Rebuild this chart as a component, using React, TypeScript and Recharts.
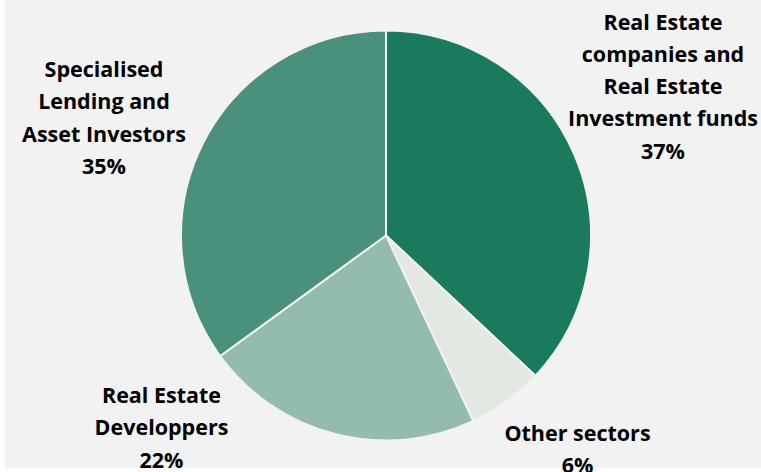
import React from "react";
import { PieChart, Pie, Cell } from "recharts";

const categories = [
  "Real Estate companies and Real Estate Investment funds",
  "Other sectors",
  "Real Estate Developpers",
  "Specialised Lending and Asset Investors",
];
const shares = [37, 6, 22, 35];
const labelLines = [
  ["Real Estate", "companies and", "Real Estate", "Investment funds"],
  ["Other sectors"],
  ["Real Estate", "Developpers"],
  ["Specialised", "Lending and", "Asset Investors"],
];
const colors = ["#1a7a5e", "#e3e8e2", "#93bbb0", "#4a917d"];

// label anchor offsets relative to pie center (top line center)
const labelLayout = [
  { dx: 277, top: 20.5 - 235.5 },
  { dx: 191.5, top: 432 - 235.5 },
  { dx: -224.5, top: 394 - 235.5 },
  { dx: -282, top: 68 - 235.5 },
];

const data = categories.map((name, i) => ({ name, value: shares[i] }));

const LINE_H = 32.3;

const renderLabel = (props: any) => {
  const { cx, cy, index, value } = props;
  const lay = labelLayout[index];
  const lines = [...labelLines[index], `${value}%`];
  const x = cx + lay.dx;
  const y0 = cy + lay.top;
  return (
    <text
      x={x}
      y={y0}
      textAnchor="middle"
      dominantBaseline="central"
      fill="#000"
      style={{ fontFamily: "'Open Sans', sans-serif", fontWeight: 700, fontSize: 21.5 }}
    >
      {lines.map((l, i) => (
        <tspan key={i} x={x} y={y0 + i * LINE_H}>
          {l}
        </tspan>
      ))}
    </text>
  );
};

export default function App() {
  return (
    <div style={{ position: "fixed", left: 0, top: 0, width: 761, height: 472, background: "#fff" }}>
      <div style={{ position: "absolute", left: 5, top: 0, width: 756, height: 468, background: "#f2f2f2" }} />
      <div style={{ position: "absolute", left: 0, top: 0 }}>
        <PieChart width={761} height={472} margin={{ top: 0, right: 0, bottom: 0, left: 0 }}>
          <Pie
            data={data}
            dataKey="value"
            nameKey="name"
            cx={386}
            cy={235.5}
            outerRadius={205}
            innerRadius={0}
            startAngle={90}
            endAngle={-270}
            stroke="#f2f2f2"
            strokeWidth={2}
            isAnimationActive={false}
            label={renderLabel}
            labelLine={false}
          >
            {data.map((d, i) => (
              <Cell key={d.name} fill={colors[i]} />
            ))}
          </Pie>
        </PieChart>
      </div>
    </div>
  );
}
